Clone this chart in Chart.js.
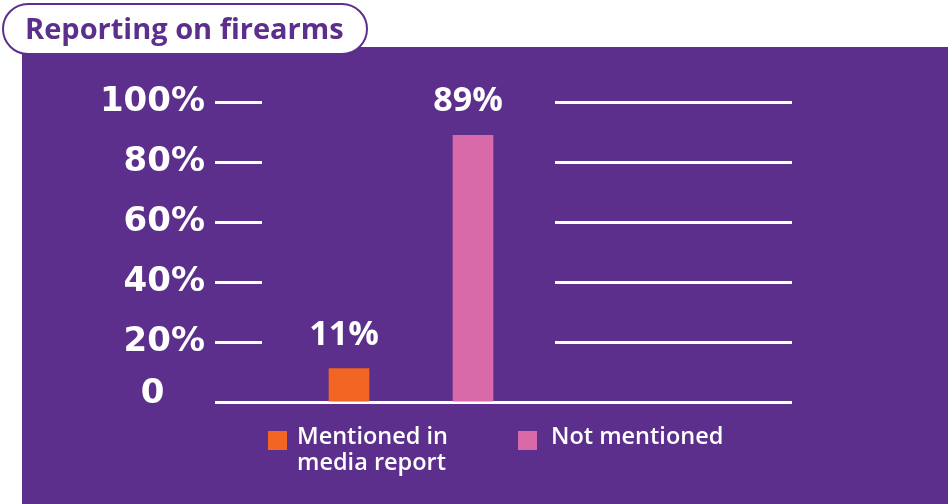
<!DOCTYPE html>
<html>
<head>
<meta charset="utf-8">
<script src="https://cdn.jsdelivr.net/npm/chart.js@4/dist/chart.umd.min.js"></script>
<style>
  html, body { margin: 0; padding: 0; background: #ffffff; }
  #wrap { position: relative; width: 948px; height: 504px; overflow: hidden; font-family: "Open Sans", "Noto Sans", sans-serif; }
  #panel { position: absolute; left: 22px; top: 47px; width: 926px; height: 457px; background: #5c2f8c; }
  #title {
    position: absolute; left: 2px; top: 3px; width: 366px; height: 52px; box-sizing: border-box;
    border: 2.5px solid #5c2f8c; border-radius: 27px; background: #ffffff;
    color: #5c2f8c; font-weight: 700; font-size: 29px; line-height: 46px; padding-left: 21px; white-space: nowrap;
  }
  #chart { position: absolute; left: 0; top: 0; }
  #legend { position: absolute; left: 268px; top: 422px; color: #ffffff; font-size: 23.5px; font-weight: 600; line-height: 26px; }
  .item { position: absolute; top: 0; display: flex; align-items: flex-start; white-space: nowrap; }
  .box { width: 19px; height: 19px; margin-top: 9px; flex: none; }
</style>
</head>
<body>
<div id="wrap">
  <div id="panel"></div>
  <canvas id="chart" width="948" height="504"></canvas>
  <div id="title">Reporting on firearms</div>
  <div id="legend"></div>
</div>
<script>
// Share of reports that mention firearms
const categories = ['Mentioned in media report', 'Not mentioned'];
const legendLines = [['Mentioned in', 'media report'], ['Not mentioned']];
const values = [11, 89];
const barColors = ['#f26522', '#d86aaa'];
const yTickValues = [0, 20, 40, 60, 80, 100];
const yTickLabels = ['0', '20%', '40%', '60%', '80%', '100%'];

const tickFont = '700 34px "DejaVu Sans", sans-serif';
const tickPadding = 82;

// White guide lines: short stubs beside the axis labels, longer ones on the right,
// and a full-width baseline at zero.
const guideLines = {
  id: 'guideLines',
  beforeDatasetsDraw(chart) {
    const { ctx, chartArea, scales } = chart;
    const y = scales.y;
    const leftStart = chartArea.left - 72, leftEnd = chartArea.left - 25;
    const rightStart = chartArea.right + 20, rightEnd = chartArea.right + 257;
    ctx.save();
    ctx.strokeStyle = '#ffffff';
    ctx.lineWidth = 3;
    ctx.beginPath();
    yTickValues.forEach(v => {
      const py = Math.round(y.getPixelForValue(v)) + 0.5;
      if (v === 0) {
        ctx.moveTo(leftStart, py); ctx.lineTo(rightEnd, py);
      } else {
        ctx.moveTo(leftStart, py); ctx.lineTo(leftEnd, py);
        ctx.moveTo(rightStart, py); ctx.lineTo(rightEnd, py);
      }
    });
    ctx.stroke();

    // The zero label sits a little above the baseline, centred under the wider labels
    ctx.fillStyle = '#ffffff';
    ctx.font = tickFont;
    const widest = ctx.measureText(yTickLabels[yTickLabels.length - 1]).width;
    ctx.textAlign = 'center';
    ctx.textBaseline = 'middle';
    ctx.fillText(yTickLabels[0], chartArea.left - tickPadding - widest / 2, y.getPixelForValue(0) - 7);
    ctx.restore();
  }
};

// Percentage labels above each bar
const valueLabels = {
  id: 'valueLabels',
  afterDatasetsDraw(chart) {
    const { ctx } = chart;
    const meta = chart.getDatasetMeta(0);
    ctx.save();
    ctx.fillStyle = '#ffffff';
    ctx.font = '700 34px "Open Sans", "Noto Sans", sans-serif';
    ctx.textAlign = 'center';
    ctx.textBaseline = 'alphabetic';
    meta.data.forEach((bar, i) => {
      ctx.fillText(values[i] + '%', bar.x - 5, bar.y - 24);
    });
    ctx.restore();
  }
};

new Chart(document.getElementById('chart'), {
  type: 'bar',
  data: {
    labels: categories,
    datasets: [{
      data: values,
      backgroundColor: barColors,
      borderWidth: 0,
      barThickness: 40
    }]
  },
  options: {
    responsive: false,
    animation: false,
    events: [],
    layout: { padding: { top: 102, right: 413, bottom: 100, left: 0 } },
    plugins: { legend: { display: false }, tooltip: { enabled: false } },
    scales: {
      x: { display: false },
      y: {
        min: 0,
        max: 100,
        afterFit(scale) { scale.width = 287; },
        afterBuildTicks(scale) { scale.ticks = yTickValues.map(v => ({ value: v })); },
        grid: { display: false, drawTicks: false },
        border: { display: false },
        ticks: {
          padding: tickPadding,
          color: '#ffffff',
          font: { family: '"DejaVu Sans", sans-serif', size: 34, weight: 'bold' },
          // zero is drawn by the guide-line plugin
          callback: (v) => (v === 0 ? '' : yTickLabels[yTickValues.indexOf(v)])
        }
      }
    }
  },
  plugins: [guideLines, valueLabels]
});

// Legend built from the same categories and colours
const legend = document.getElementById('legend');
const itemOffsets = [0, 250];
const boxGaps = [10, 14];
categories.forEach((c, i) => {
  const item = document.createElement('div');
  item.className = 'item';
  item.style.left = itemOffsets[i] + 'px';
  const box = document.createElement('div');
  box.className = 'box';
  box.style.background = barColors[i];
  box.style.marginRight = boxGaps[i] + 'px';
  const text = document.createElement('div');
  text.innerHTML = legendLines[i].join('<br>');
  item.appendChild(box);
  item.appendChild(text);
  legend.appendChild(item);
});
</script>
</body>
</html>
